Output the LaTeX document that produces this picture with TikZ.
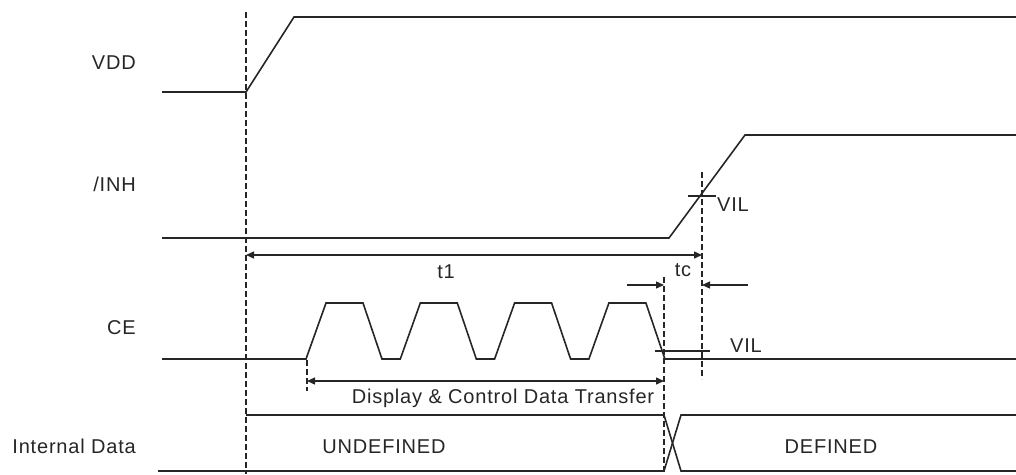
\documentclass[tikz,border=0pt]{standalone}
\usepackage{fontspec}
\setmainfont{Liberation Sans}[LetterSpace=4]
\usetikzlibrary{arrows.meta}

\begin{document}
\begin{tikzpicture}[x=1pt,y=-1pt,
                sig/.style={line width=1.6pt,draw=black!85},
                guide/.style={line width=1.1pt,draw=black!85,dash pattern=on 6pt off 3pt},
                dim/.style={line width=1.3pt,draw=black!85,-{Triangle[length=8pt,width=7pt]}},
                ddim/.style={line width=1.3pt,draw=black!85,
                        {Triangle[length=8pt,width=7pt]}-{Triangle[length=8pt,width=7pt]}},
                signame/.style={inner sep=0pt,anchor=base east,text=black!85},
                lbl/.style={inner sep=0pt,anchor=base,text=black!85},
                font=\fontsize{20}{24}\selectfont]
            \useasboundingbox (0,0) rectangle (1016,474);
            % signal names
            \node[signame] (vdd) at (136,69) {VDD};
            \node[signame] (inh) at (136,191) {/INH};
            \node[signame] (ce) at (136,334) {CE};
            \node[signame] (data) at (136,453) {Internal Data};
            % guide lines
            \coordinate (g1) at (246,12);
            \coordinate (g1e) at (246,474);
            \coordinate (g2) at (702,172);
            \coordinate (g2e) at (702,379);
            \coordinate (g3) at (664,277);
            \coordinate (g3e) at (664,474);
            \coordinate (g4) at (307,360);
            \coordinate (g4e) at (307,391);
            \foreach \a in {g1,g2,g3,g4}
                {\draw[guide] (\a) -- (\a e);}
            % VDD
            \draw[sig] (162,92) -- (246,92) -- (294,17) -- (1016,17);
            % /INH
            \draw[sig] (162,238) -- (669,238) -- (745,135) -- (1016,135);
            \draw[sig] (688,196) -- (716,196);
            \node[lbl,anchor=base west] (vil1) at (717,211) {VIL};
            % CE
            \draw[sig] (162,359) \foreach \k in {0,...,3}
                {-- ({306+94.3*\k},359) -- ++(20,-56) -- ++(37,0) -- ++(19,56)}
            -- (1016,359);
            \draw[sig] (655,351) -- (710,351);
            \node[lbl,anchor=base west] (vil2) at (730,352) {VIL};
            % Internal Data
            \draw[sig] (246,415) -- (664,415) -- (681,471) -- (1016,471);
            \draw[sig] (158,471) -- (664,471) -- (681,415) -- (1016,415);
            \node[lbl] (undef) at (384,453) {UNDEFINED};
            \node[lbl] (def) at (831,453) {DEFINED};
            % timing
            \coordinate (t1a) at (246,255);
            \coordinate (t1b) at (702,255);
            \draw[ddim] (t1a) -- (t1b);
            \node[lbl] (t1) at (446,278) {t1};
            \coordinate (tca) at (627,285);
            \coordinate (tcb) at (748,285);
            \draw[dim] (tca) -- (664,285);
            \draw[dim] (tcb) -- (702,285);
            \node[lbl] (tc) at (683,276) {tc};
            \coordinate (dta) at (307,381);
            \coordinate (dtb) at (664,381);
            \draw[ddim] (dta) -- (dtb);
            \node[lbl] (dt) at (503,403) {Display \& Control Data Transfer};
        \end{tikzpicture}
\end{document}
